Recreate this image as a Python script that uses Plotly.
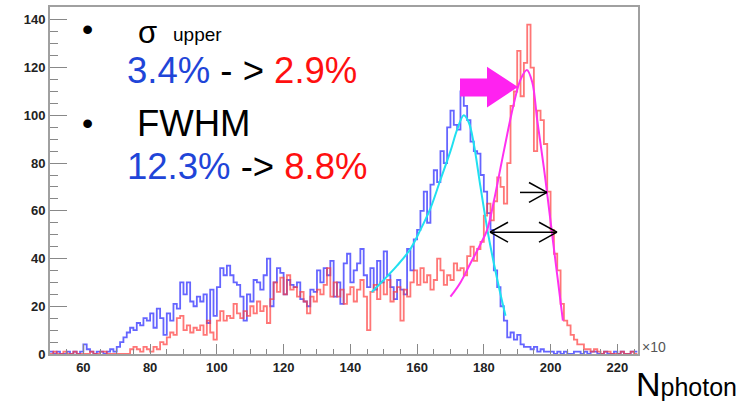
import plotly.graph_objects as go

# ---------------- data ----------------
bin_start = 50  # first bin left edge, bin width 1 (x10^3 photons)

blue_counts = [
    1, 0, 1, 0, 0, 1, 0, 1, 0, 1,            # 50-59
    4, 2, 1, 0, 1, 1, 0, 1, 2, 1,            # 60-69
    3, 5, 7, 9, 11, 10, 13, 12, 15, 14,      # 70-79
    17, 11, 19, 15, 8, 17, 14, 21, 19, 30,   # 80-89
    25, 30, 22, 20, 24, 22, 25, 13, 27, 16,  # 90-99
    28, 36, 33, 37, 33, 30, 29, 24, 14, 25,  # 100-109
    22, 31, 30, 27, 33, 40, 20, 30, 36, 34,  # 110-119
    25, 31, 29, 28, 30, 23, 22, 20, 27, 26,  # 120-129
    35, 30, 36, 33, 39, 24, 30, 21, 38, 42,  # 130-139
    30, 35, 38, 44, 33, 28, 36, 27, 39, 30,  # 140-149
    43, 33, 28, 23, 31, 27, 25, 44, 35, 48,  # 150-159
    52, 60, 68, 55, 71, 77, 72, 85, 80, 95,  # 160-169
    102, 96, 94, 110, 104, 98, 89, 85, 84, 75,  # 170-179
    68, 59, 52, 35, 28, 20, 14, 7, 9, 6,     # 180-189
    8, 4, 3, 3, 2, 3, 1, 2, 1, 1,            # 190-199
    1, 0, 1, 0, 1, 0, 0, 1, 1, 0,            # 200-209
    1, 0, 1, 1, 0, 0, 1, 0, 0, 1,            # 210-219
    0, 1, 0, 0, 1, 1,                        # 220-225
]

red_counts = [
    0, 1, 0, 0, 1, 0, 0, 1, 0, 0,            # 50-59
    0, 0, 1, 0, 0, 1, 1, 0, 0, 0,            # 60-69
    0, 0, 0, 0, 2, 3, 2, 1, 3, 2,            # 70-79
    1, 3, 2, 5, 4, 7, 9, 8, 15, 16,          # 80-89
    10, 12, 9, 11, 10, 12, 8, 14, 9, 6,      # 90-99
    14, 18, 14, 16, 15, 21, 17, 15, 18, 16,  # 100-109
    20, 17, 22, 18, 20, 13, 23, 30, 26, 32,  # 110-119
    25, 33, 27, 28, 24, 26, 22, 17, 24, 22,  # 120-129
    27, 25, 29, 36, 24, 30, 24, 27, 21, 25,  # 130-139
    28, 22, 27, 31, 24, 10, 26, 29, 23, 30,  # 140-149
    25, 31, 22, 26, 28, 14, 27, 24, 30, 35,  # 150-159
    29, 36, 30, 33, 27, 31, 40, 35, 29, 33,  # 160-169
    31, 38, 35, 36, 33, 41, 45, 39, 44, 47,  # 170-179
    58, 63, 56, 64, 74, 70, 63, 80, 104, 110,  # 180-189
    127, 108, 122, 138, 120, 85, 102, 98, 88, 68,  # 190-199
    52, 42, 35, 21, 14, 12, 8, 6, 4, 4,      # 200-209
    2, 2, 1, 2, 1, 0, 1, 1, 0, 0,            # 210-219
    0, 1, 0, 0, 1, 0,                        # 220-225
]

cyan_fit_x = [146.4, 150, 154, 158, 161, 164, 167, 170, 172, 174, 175.5, 177, 179, 181.2, 183, 185, 186.5]
cyan_fit_y = [26, 31, 37, 44, 52, 61, 73, 85, 94, 100, 97, 88, 70, 51, 38, 25, 16]

magenta_fit_x = [170, 173, 176, 179, 181, 183, 185, 187, 189, 191, 192.9, 194.5, 196, 198, 199, 200.4, 202, 203.7]
magenta_fit_y = [24, 30, 38, 46, 52, 64, 78, 92, 105, 115, 119, 114, 98, 78, 67, 51, 33, 14]

x_tick_vals = [60, 80, 100, 120, 140, 160, 180, 200, 220]
y_tick_vals = [0, 20, 40, 60, 80, 100, 120, 140]

# ---------------- geometry helpers ----------------
X0, X1 = 50.0, 226.2
Y0, Y1 = 0.0, 145.4
PL, PR, PT, PB = 50, 638, 5, 354  # plot area in pixels


def dx(px):
    return X0 + (px - PL) * (X1 - X0) / (PR - PL)


def dy(py):
    return Y0 + (PB - py) * (Y1 - Y0) / (PB - PT)


def paper(px, py):
    return (px - PL) / (PR - PL), (PB - py) / (PB - PT)


fig = go.Figure()

edges = list(range(bin_start, bin_start + len(blue_counts) + 1))
fig.add_trace(go.Scatter(
    x=edges, y=blue_counts + [blue_counts[-1]], mode="lines",
    line=dict(shape="hv", color="rgba(50,50,255,0.75)", width=1.8),
    hoverinfo="skip", showlegend=False))
fig.add_trace(go.Scatter(
    x=edges, y=red_counts + [red_counts[-1]], mode="lines",
    line=dict(shape="hv", color="rgba(255,60,60,0.7)", width=1.8),
    hoverinfo="skip", showlegend=False))
fig.add_trace(go.Scatter(
    x=cyan_fit_x, y=cyan_fit_y, mode="lines",
    line=dict(shape="spline", color="#20e0f0", width=2),
    hoverinfo="skip", showlegend=False))
fig.add_trace(go.Scatter(
    x=magenta_fit_x, y=magenta_fit_y, mode="lines",
    line=dict(shape="spline", color="#ff30f0", width=2),
    hoverinfo="skip", showlegend=False))

shapes = []
# magenta block arrow
pts = [(460, 77), (487, 77), (487, 65), (518, 85.5), (487, 106), (487, 95), (460, 95)]
path = "M " + " L ".join(f"{dx(a)},{dy(b)}" for a, b in pts) + " Z"
shapes.append(dict(type="path", path=path, xref="x", yref="y",
                   fillcolor="#ff22f0", line=dict(width=0)))


def seg(a, b, c, d):
    shapes.append(dict(type="line", xref="x", yref="y",
                       x0=dx(a), y0=dy(b), x1=dx(c), y1=dy(d),
                       line=dict(color="black", width=1.5)))


# single right arrow
seg(520, 191.5, 547, 191.5)
seg(529, 181.5, 547, 191.5)
seg(529, 201.5, 547, 191.5)
# double arrow
seg(490, 231.5, 557, 231.5)
seg(539, 221.5, 557, 231.5)
seg(539, 241.5, 557, 231.5)
seg(508, 221.5, 490, 231.5)
seg(508, 241.5, 490, 231.5)

BLUE = "#1f45d8"
RED = "#ff1010"
FONT = "Liberation Sans, Arial, sans-serif"

annotations = []


def txt(px, py, text, size, color="black", xanchor="left"):
    x, y = paper(px, py)
    annotations.append(dict(x=x, y=y, xref="paper", yref="paper", text=text,
                            showarrow=False, xanchor=xanchor, yanchor="middle",
                            font=dict(family=FONT, size=size, color=color)))


txt(80, 27, "•", 32)
txt(80, 122, "•", 32)
txt(136, 31, "σ", 31)
txt(171, 33, "upper", 19)
txt(125, 69, f"<span style='color:{BLUE}'>3.4%</span> - &gt; <span style='color:{RED}'>2.9%</span>", 36.5)
txt(135, 122, "FWHM", 36.5)
txt(125, 165, f"<span style='color:{BLUE}'>12.3%</span> -&gt; <span style='color:{RED}'>8.8%</span>", 36.5)
txt(640, 347, "×10", 14, color="#555")
txt(634, 384, "N<span style='font-size:25px'>photon</span>", 34)

axis_common = dict(showline=True, mirror=True, linecolor="#a0a0a0", linewidth=2,
                   ticks="inside", tickcolor="#888", showgrid=False, zeroline=False,
                   tickfont=dict(family=FONT, size=13, color="#222", weight="bold"))

fig.update_layout(
    width=751, height=404,
    margin=dict(l=PL, r=751 - PR, t=PT, b=404 - PB),
    paper_bgcolor="white", plot_bgcolor="white",
    showlegend=False,
    xaxis=dict(range=[X0, X1], tickvals=x_tick_vals, ticklen=10, tickwidth=1.2,
               minor=dict(dtick=5, ticklen=5, tickcolor="#888", ticks="inside"),
               **axis_common),
    yaxis=dict(range=[Y0, Y1], tickvals=y_tick_vals, ticklen=17, tickwidth=1.2,
               minor=dict(dtick=5, ticklen=8, tickcolor="#888", ticks="inside"),
               **axis_common),
    shapes=shapes,
    annotations=annotations,
)

fig.write_html("out.html")
